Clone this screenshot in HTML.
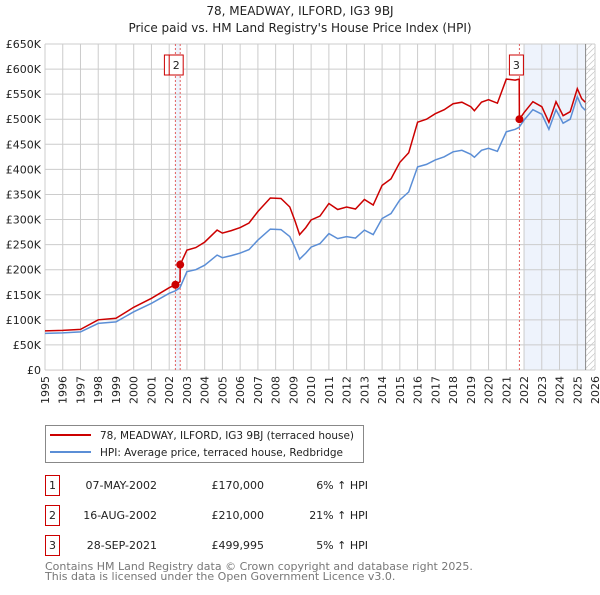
<!DOCTYPE html>
<html><head><meta charset="utf-8">
<style>
body{margin:0;background:#fff;width:600px;height:590px;overflow:hidden;font-family:"Liberation Sans","DejaVu Sans",sans-serif;}
svg text{font-family:"DejaVu Sans","Liberation Sans",sans-serif;}
</style></head>
<body>
<svg id="chart" width="600" height="590" viewBox="0 0 600 590" xmlns="http://www.w3.org/2000/svg">
<text x="300" y="15" text-anchor="middle" font-size="12" fill="#222">78, MEADWAY, ILFORD, IG3 9BJ</text>
<text x="300" y="32" text-anchor="middle" font-size="12" fill="#222">Price paid vs. HM Land Registry's House Price Index (HPI)</text>
<g id="plot"></g>
<g>
<rect x="45.5" y="425.5" width="318" height="37" fill="#fff" stroke="#888"/>
<line x1="50" y1="435" x2="91" y2="435" stroke="#cc0000" stroke-width="2"/>
<text x="100" y="439" font-size="10.5" textLength="254" lengthAdjust="spacingAndGlyphs" fill="#222">78, MEADWAY, ILFORD, IG3 9BJ (terraced house)</text>
<line x1="50" y1="452" x2="91" y2="452" stroke="#5b8ed6" stroke-width="2"/>
<text x="100" y="456" font-size="10.5" textLength="243" lengthAdjust="spacingAndGlyphs" fill="#222">HPI: Average price, terraced house, Redbridge</text>
</g>
<g font-size="11" fill="#222">
<rect x="45.5" y="475.5" width="14" height="20" fill="none" stroke="#cc0000"/><text x="52.5" y="489" text-anchor="middle">1</text>
<text x="157" y="489" text-anchor="end">07-MAY-2002</text><text x="264" y="489" text-anchor="end">£170,000</text><text x="368" y="489" text-anchor="end">6% ↑ HPI</text>
<rect x="45.5" y="505.5" width="14" height="20" fill="none" stroke="#cc0000"/><text x="52.5" y="519" text-anchor="middle">2</text>
<text x="157" y="519" text-anchor="end">16-AUG-2002</text><text x="264" y="519" text-anchor="end">£210,000</text><text x="368" y="519" text-anchor="end">21% ↑ HPI</text>
<rect x="45.5" y="535.5" width="14" height="20" fill="none" stroke="#cc0000"/><text x="52.5" y="549" text-anchor="middle">3</text>
<text x="157" y="549" text-anchor="end">28-SEP-2021</text><text x="264" y="549" text-anchor="end">£499,995</text><text x="368" y="549" text-anchor="end">5% ↑ HPI</text>
</g>
<text x="45" y="570" font-size="11" fill="#777">Contains HM Land Registry data © Crown copyright and database right 2025.</text>
<text x="45" y="580" font-size="11" fill="#777">This data is licensed under the Open Government Licence v3.0.</text>
</svg>
<script>
const dates=[1995,1996,1997,1998,1999,2000,2001,2002,2002.35,2002.61,2002.62,2003,2003.5,2004,2004.7,2005,2005.5,2006,2006.5,2007,2007.7,2008.3,2008.8,2009.1,2009.35,2009.7,2010,2010.5,2011,2011.5,2012,2012.5,2013,2013.5,2014,2014.5,2015,2015.5,2016,2016.5,2017,2017.5,2018,2018.5,2019,2019.2,2019.6,2020,2020.5,2021,2021.5,2021.73,2021.74,2022,2022.5,2023,2023.4,2023.8,2024.2,2024.6,2025,2025.25,2025.45];
const hpiValues=[73,74,76,93,96,116,133,153,158,164,165,196,200,209,229,224,228,233,240,259,281,280,266,243,221,233,245,252,272,262,266,263,279,270,302,312,339,355,405,410,419,425,435,438,430,424,438,442,436,475,480,484,485,498,519,510,480,519,492,500,545,525,518];
const priceValues=[78,79,81,100,103,125,143,164,170,176,210,239,244,255,279,273,278,284,293,316,343,342,325,296,270,284,299,307,332,320,325,321,340,329,368,381,414,433,494,500,511,519,531,534,525,517,534,539,532,580,578,580,500,513,535,525,494,535,507,515,561,541,534];
const yTicks=[0,50,100,150,200,250,300,350,400,450,500,550,600,650];
const yTickLabels=["£0","£50K","£100K","£150K","£200K","£250K","£300K","£350K","£400K","£450K","£500K","£550K","£600K","£650K"];
const xTicks=[1995,1996,1997,1998,1999,2000,2001,2002,2003,2004,2005,2006,2007,2008,2009,2010,2011,2012,2013,2014,2015,2016,2017,2018,2019,2020,2021,2022,2023,2024,2025,2026];
const saleDates=[2002.35,2002.62,2021.74];
const salePrices=[170,210,499.995];
const saleLabels=["1","2","3"];

const NS="http://www.w3.org/2000/svg";
const X0=45,X1=595,Y0=370,Y1=44;
const xs=y=>X0+(y-1995)/(2026-1995)*(X1-X0);
const ys=v=>Y0-v/650*(Y0-Y1);
const plot=document.getElementById('plot');
function mk(tag,attrs,parent){const e=document.createElementNS(NS,tag);for(const k in attrs)e.setAttribute(k,attrs[k]);(parent||plot).appendChild(e);return e;}

const defs=mk('defs',{});
const pat=mk('pattern',{id:'hatch',width:6,height:6,patternUnits:'userSpaceOnUse'},defs);
mk('path',{d:'M0,6 L6,0',stroke:'#ccc','stroke-width':0.8},pat);
const band=mk('rect',{x:xs(2022),y:Y1,width:xs(2025.47)-xs(2022),height:Y0-Y1,fill:'#eef3fc'});


const hatch=mk('rect',{x:xs(2025.47),y:Y1,width:X1-xs(2025.47),height:Y0-Y1,fill:'url(#hatch)'});


const sb=mk('rect',{x:xs(saleDates[0]),y:Y1,width:xs(saleDates[1])-xs(saleDates[0]),height:Y0-Y1,fill:'#eef3fc'});



xTicks.forEach(t=>{
  const l=mk('line',{x1:xs(t),x2:xs(t),y1:Y1,y2:Y0,stroke:'#ccc','stroke-width':1});
  
  
  const tx=mk('text',{transform:`translate(${xs(t)+4},${Y0+6}) rotate(-90)`,'text-anchor':'end','font-size':11,fill:'#222'});
  tx.textContent=t;
  
  
});
yTicks.forEach((t,i)=>{
  const l=mk('line',{x1:X0,x2:X1,y1:ys(t),y2:ys(t),stroke:'#ccc','stroke-width':1});
  
  
  const tx=mk('text',{x:X0-4,y:ys(t)+4,'text-anchor':'end','font-size':11,fill:'#222'});
  tx.textContent=yTickLabels[i];
  
  
});
const dl=mk('line',{x1:xs(2025.47),x2:xs(2025.47),y1:Y1,y2:Y0,stroke:'#888','stroke-width':1});



saleDates.forEach(d=>{
  const l=mk('line',{x1:xs(d),x2:xs(d),y1:Y1,y2:Y0,stroke:'#e06060','stroke-width':1,'stroke-dasharray':'2,2'});
  
  
});

function path(vals){return vals.map((v,i)=>(i?'L':'M')+xs(dates[i]).toFixed(1)+','+ys(v).toFixed(1)).join(' ');}
const hp=mk('path',{d:path(hpiValues),fill:'none',stroke:'#5b8ed6','stroke-width':1.5});


const pp=mk('path',{d:path(priceValues),fill:'none',stroke:'#cc0000','stroke-width':1.5});



saleDates.forEach((d,i)=>{
  const c=mk('circle',{cx:xs(d),cy:ys(salePrices[i]),r:4,fill:'#cc0000'});
  
  
});
const labelX=[xs(saleDates[0])-4,xs(saleDates[1])-4,xs(saleDates[2])-3];
saleLabels.forEach((s,i)=>{
  const g=mk('g',{});
  
  
  mk('rect',{x:labelX[i]-7,y:55,width:14,height:20,fill:'#fff',stroke:'#cc0000'},g);
  const t=mk('text',{x:labelX[i],y:69,'text-anchor':'middle','font-size':11,fill:'#222'},g);
  t.textContent=s;
});
</script>
</body></html>
